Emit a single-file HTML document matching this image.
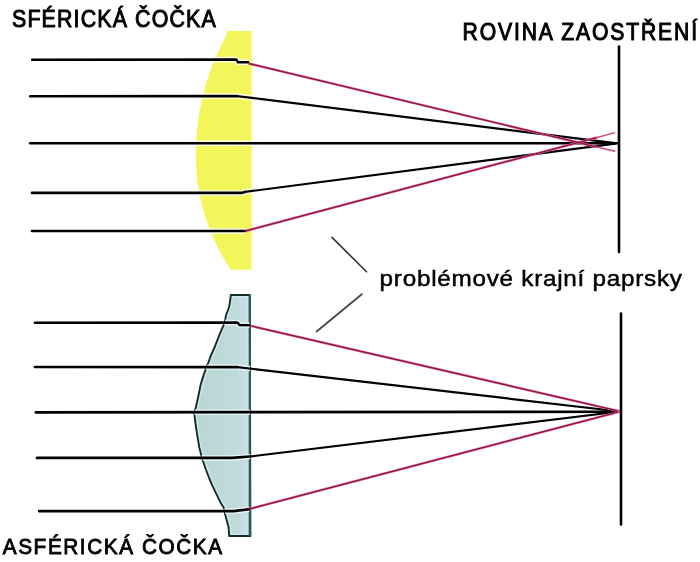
<!DOCTYPE html>
<html><head><meta charset="utf-8">
<style>
html,body{margin:0;padding:0;background:#fff;width:700px;height:562px;overflow:hidden}
svg{display:block;filter:blur(0.45px)}
text{font-family:"Liberation Sans",sans-serif;fill:#000;stroke:#000}
</style></head><body>
<svg width="700" height="562" viewBox="0 0 700 562">
<rect width="700" height="562" fill="#fff"/>

<!-- ===== TOP: spherical lens ===== -->
<clipPath id="c1"><path d="M227.2,31.0 L225.8,36.0 L223.5,41.0 L220.9,46.0 L218.5,51.0 L216.2,55.9 L214.0,60.9 L212.1,65.9 L210.2,70.9 L208.5,75.9 L206.9,80.9 L205.4,85.9 L204.1,90.9 L202.8,95.9 L201.7,100.9 L200.7,105.8 L199.8,110.8 L198.9,115.8 L198.2,120.8 L197.6,125.8 L197.0,130.8 L196.6,135.8 L196.2,140.8 L196.0,145.8 L195.9,150.8 L195.8,155.7 L195.9,160.7 L196.1,165.7 L196.4,170.7 L196.9,175.7 L197.4,180.7 L198.1,185.7 L198.9,190.7 L199.8,195.7 L200.9,200.6 L202.1,205.6 L203.4,210.6 L204.9,215.6 L206.5,220.6 L208.3,225.6 L210.2,230.6 L212.3,235.6 L214.5,240.6 L216.9,245.6 L219.4,250.5 L222.1,255.5 L225.0,260.5 L228.0,265.5 L230.6,269.8 L251.6,269.8 L251.6,31 Z"/></clipPath>
<path d="M227.2,31.0 L225.8,36.0 L223.5,41.0 L220.9,46.0 L218.5,51.0 L216.2,55.9 L214.0,60.9 L212.1,65.9 L210.2,70.9 L208.5,75.9 L206.9,80.9 L205.4,85.9 L204.1,90.9 L202.8,95.9 L201.7,100.9 L200.7,105.8 L199.8,110.8 L198.9,115.8 L198.2,120.8 L197.6,125.8 L197.0,130.8 L196.6,135.8 L196.2,140.8 L196.0,145.8 L195.9,150.8 L195.8,155.7 L195.9,160.7 L196.1,165.7 L196.4,170.7 L196.9,175.7 L197.4,180.7 L198.1,185.7 L198.9,190.7 L199.8,195.7 L200.9,200.6 L202.1,205.6 L203.4,210.6 L204.9,215.6 L206.5,220.6 L208.3,225.6 L210.2,230.6 L212.3,235.6 L214.5,240.6 L216.9,245.6 L219.4,250.5 L222.1,255.5 L225.0,260.5 L228.0,265.5 L230.6,269.8 L251.6,269.8 L251.6,31 Z" fill="#f3f65a"/>
<!-- pale halos inside lens -->
<g clip-path="url(#c1)" stroke="#fdfde8" stroke-width="5.5" fill="none" stroke-linejoin="round">
  <path d="M32.2,59.8 L236.4,59.6 L238,62.2 L248,62.3"/>
  <path d="M30.2,96.2 L237,96.1 L615,143.1"/>
  <path d="M30.2,143.3 L618,143.3"/>
  <path d="M32,192.9 L241.3,192.9 L245,191.9 L615,143.6"/>
  <path d="M32,231 L245.5,231"/>
</g>
<!-- incoming rays (top) -->
<g stroke="#000" stroke-width="2.6" fill="none" stroke-linecap="round" stroke-linejoin="round">
  <path d="M32.2,59.8 L236.4,59.6 L238,62.2 L248,62.3"/>
  <path d="M30.2,96.2 L237,96.1"/>
  <path d="M30.2,143.3 L618,143.3"/>
  <path d="M32,192.9 L241.3,192.9 L245,191.9"/>
  <path d="M32,231 L245.5,231"/>
</g>
<g stroke="#000" stroke-width="2.2" fill="none" stroke-linecap="round">
  <path d="M237,96.1 L615,143.1"/>
  <path d="M245,191.9 L615,143.6"/>
</g>
<!-- red rays (top) -->
<g stroke="#e0508e" stroke-width="2.4" fill="none">
  <path d="M248.5,63.5 L597,147"/>
  <path d="M245.5,231 L597,137.5"/>
</g>
<g stroke="#6a1034" stroke-width="0.95" fill="none">
  <path d="M248.5,63.5 L597,147"/>
  <path d="M245.5,231 L597,137.5"/>
</g>
<g stroke="#c9578a" stroke-width="1.7" fill="none" stroke-linecap="round">
  <path d="M597,147 L614.5,151.2"/>
  <path d="M597,137.5 L614.5,132.8"/>
</g>

<!-- focal plane (top) -->
<line x1="619" y1="46.6" x2="619" y2="252" stroke="#000" stroke-width="2.6" stroke-linecap="round"/>

<!-- ===== BOTTOM: aspherical lens ===== -->
<clipPath id="c2"><path d="M230.8,295 L230.5,298 L229.9,302 L229.4,305.5 L228.4,309 L227,312.5 L225.8,316 L225.3,319.5 L224.6,323.5 L222.4,327.8 L219.2,335.3 L214.9,346.5 L210.5,356.5 L208.7,361.8 L206.8,366.4 L203.7,374.9 L200.6,384.9 L198.1,397.3 L195.6,408.5 L194.3,412.3 L195,420 L196.8,432.4 L199.3,447.4 L201.8,457.3 L205.5,468.5 L209.3,478.5 L211.8,484.3 L216.8,494.9 L221.1,503.6 L224.2,508.6 L225,511 L224.9,513.6 L228.6,527.3 L229.2,536 L250.4,536 L249.8,295 Z"/></clipPath>
<linearGradient id="g2" gradientUnits="userSpaceOnUse" x1="195" y1="0" x2="250" y2="0"><stop offset="0" stop-color="#bad7d4"/><stop offset="0.75" stop-color="#bfdada"/><stop offset="0.95" stop-color="#c8dfe6"/></linearGradient>
<path d="M230.8,295 L230.5,298 L229.9,302 L229.4,305.5 L228.4,309 L227,312.5 L225.8,316 L225.3,319.5 L224.6,323.5 L222.4,327.8 L219.2,335.3 L214.9,346.5 L210.5,356.5 L208.7,361.8 L206.8,366.4 L203.7,374.9 L200.6,384.9 L198.1,397.3 L195.6,408.5 L194.3,412.3 L195,420 L196.8,432.4 L199.3,447.4 L201.8,457.3 L205.5,468.5 L209.3,478.5 L211.8,484.3 L216.8,494.9 L221.1,503.6 L224.2,508.6 L225,511 L224.9,513.6 L228.6,527.3 L229.2,536 L250.4,536 L249.8,295 Z" fill="url(#g2)"/>
<path d="M230.8,295 L230.5,298 L229.9,302 L229.4,305.5 L228.4,309 L227,312.5 L225.8,316 L225.3,319.5 L224.6,323.5 L222.4,327.8 L219.2,335.3 L214.9,346.5 L210.5,356.5 L208.7,361.8 L206.8,366.4 L203.7,374.9 L200.6,384.9 L198.1,397.3 L195.6,408.5 L194.3,412.3 L195,420 L196.8,432.4 L199.3,447.4 L201.8,457.3 L205.5,468.5 L209.3,478.5 L211.8,484.3 L216.8,494.9 L221.1,503.6 L224.2,508.6 L225,511 L224.9,513.6 L228.6,527.3 L229.2,536 L250.4,536 L249.8,295 Z" fill="none" stroke="#d2e8e8" stroke-width="5" clip-path="url(#c2)"/>
<path d="M230.8,295 L230.5,298 L229.9,302 L229.4,305.5 L228.4,309 L227,312.5 L225.8,316 L225.3,319.5 L224.6,323.5 L222.4,327.8 L219.2,335.3 L214.9,346.5 L210.5,356.5 L208.7,361.8 L206.8,366.4 L203.7,374.9 L200.6,384.9 L198.1,397.3 L195.6,408.5 L194.3,412.3 L195,420 L196.8,432.4 L199.3,447.4 L201.8,457.3 L205.5,468.5 L209.3,478.5 L211.8,484.3 L216.8,494.9 L221.1,503.6 L224.2,508.6 L225,511 L224.9,513.6 L228.6,527.3 L229.2,536 L250.4,536 L249.8,295 Z" fill="none" stroke="#122c2c" stroke-width="1.9" stroke-linejoin="round"/>
<line x1="249.8" y1="295" x2="249.8" y2="536" stroke="#2d5a56" stroke-width="2.3"/>

<g clip-path="url(#c2)" stroke="#e6f4f4" stroke-width="5.5" fill="none" stroke-linejoin="round">
  <path d="M34.9,322.8 L237.4,322.5 L239.5,325 L249.5,325.3"/>
  <path d="M34.9,367 L237.4,367.1 L620,411.5"/>
  <path d="M35.8,412.4 L620,411.7"/>
  <path d="M36.9,457.9 L232,457.9 L250,456.5 L620,411.5"/>
  <path d="M39.2,511.1 L233.6,511.1 L249,509.2"/>
</g>
<g stroke="#000" stroke-width="2.6" fill="none" stroke-linecap="round" stroke-linejoin="round">
  <path d="M34.9,322.8 L237.4,322.5 L239.5,325 L249.5,325.3"/>
  <path d="M34.9,367 L237.4,367.1"/>
  <path d="M35.8,412.4 L620,411.7"/>
  <path d="M36.9,457.9 L232,457.9 L250,456.5"/>
  <path d="M39.2,511.1 L233.6,511.1 L249,509.2"/>
</g>
<g stroke="#000" stroke-width="2.2" fill="none" stroke-linecap="round">
  <path d="M237.4,367.1 L620,411.5"/>
  <path d="M250,456.5 L620,411.5"/>
</g>
<g stroke="#e0508e" stroke-width="2.4" fill="none">
  <path d="M250,325.7 L620,411.3"/>
  <path d="M249.5,509 L620,411.6"/>
</g>
<g stroke="#6a1034" stroke-width="0.95" fill="none">
  <path d="M250,325.7 L618,410.9"/>
  <path d="M249.5,509 L618,412"/>
</g>
<line x1="621" y1="313.5" x2="621" y2="524.5" stroke="#000" stroke-width="2.6" stroke-linecap="round"/>

<!-- pointer lines -->
<line x1="332" y1="237.4" x2="366.5" y2="271.8" stroke="#333" stroke-width="1.6" stroke-linecap="round"/>
<line x1="361.8" y1="294.2" x2="316.6" y2="331.4" stroke="#4a4a4a" stroke-width="1.9" stroke-linecap="round"/>

<!-- text -->
<g transform="translate(12,26.9) scale(0.88,1)"><text x="0" y="0" font-size="24.3" stroke-width="1" textLength="231.5" lengthAdjust="spacing">SFÉRICKÁ ČOČKA</text></g>
<g transform="translate(462.6,39.7) scale(0.9,1)"><text x="0" y="0" font-size="23.5" stroke-width="1" textLength="260.5" lengthAdjust="spacing">ROVINA ZAOSTŘENÍ</text></g>
<g transform="translate(379.6,286.2) scale(1.13,1)"><text x="0" y="0" font-size="21.5" stroke-width="0.45" textLength="267.6" lengthAdjust="spacing">problémové krajní paprsky</text></g>
<g transform="translate(2.8,553.6) scale(0.92,1)"><text x="0" y="0" font-size="22.6" stroke-width="0.9" textLength="238.3" lengthAdjust="spacing">ASFÉRICKÁ ČOČKA</text></g>
</svg>
</body></html>
